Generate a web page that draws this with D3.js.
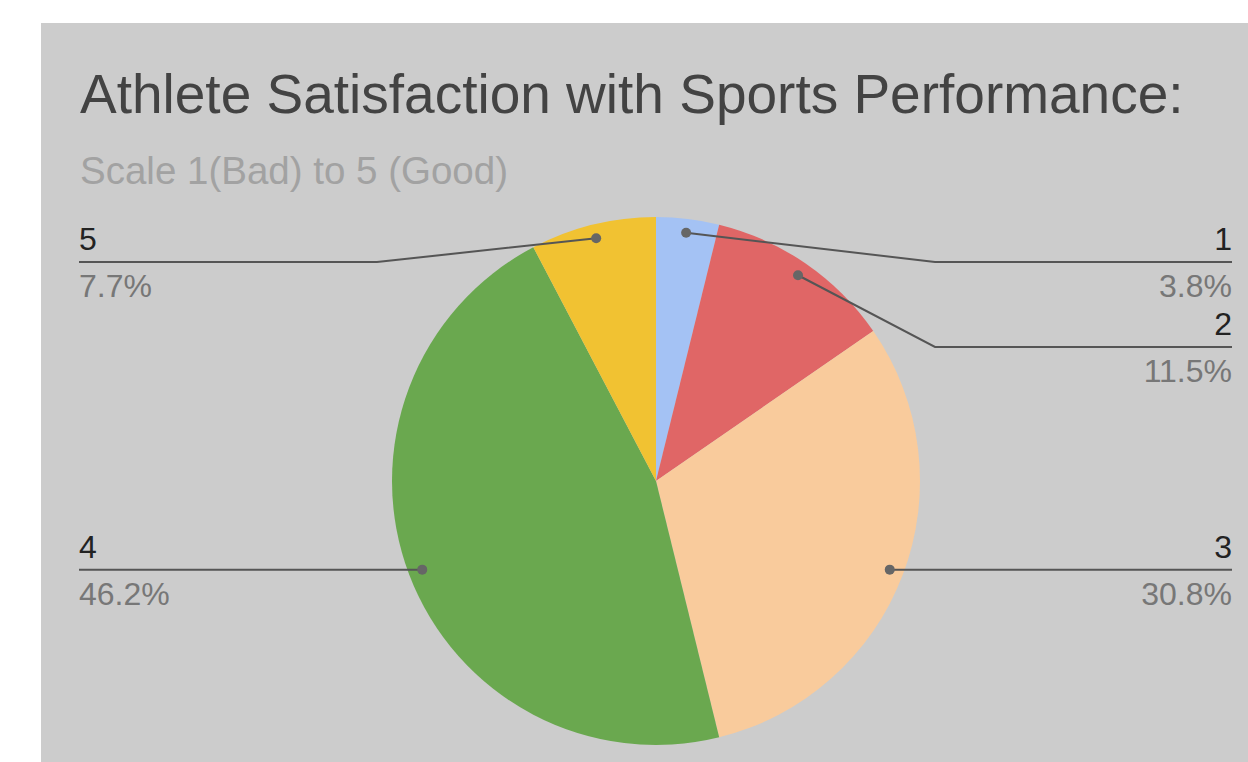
<!DOCTYPE html>
<html>
<head>
  <script src="https://d3js.org/d3.v7.min.js"></script>
  <style>
    body { margin: 0; background: #ffffff; }
    svg { display: block; }
    text { font-family: "Liberation Sans", Arial, sans-serif; }
  </style>
</head>
<body>
  <svg id="chart" width="1248" height="762"></svg>
<script>
  // data (26 responses)
  var categories = ["1", "2", "3", "4", "5"];
  var counts = [1, 3, 8, 12, 2];
  var sliceColors = ["#a4c2f4", "#e06666", "#f9cb9c", "#6aa84f", "#f1c232"];

  var titleText = "Athlete Satisfaction with Sports Performance:";
  var subtitleText = "Scale 1(Bad) to 5 (Good)";

  var svg = d3.select("#chart");

  // grey chart panel
  svg.append("rect").attr("x", 41).attr("y", 23)
    .attr("width", 1207).attr("height", 739).style("fill", "#cccccc");

  svg.append("text").attr("x", 80).attr("y", 113)
    .style("font-size", "55px").style("fill", "#434343").text(titleText);

  svg.append("text").attr("x", 80).attr("y", 184)
    .style("font-size", "38.5px").style("fill", "#a2a2a2").text(subtitleText);

  var cx = 656, cy = 481, radius = 264;
  var total = d3.sum(counts);

  var pie = d3.pie().sort(null).value(function(d) { return d; });
  var arcs = pie(counts);

  var arc = d3.arc().innerRadius(0).outerRadius(radius);
  var dotArc = d3.arc().innerRadius(radius - 14).outerRadius(radius - 14);

  var g = svg.append("g").attr("transform", "translate(" + cx + "," + cy + ")");

  g.selectAll("path.slice")
    .data(arcs)
    .enter().append("path")
    .attr("class", "slice")
    .attr("d", arc)
    .style("fill", function(d, i) { return sliceColors[i]; });

  // label layout: each side stacked downward with a minimum gap
  var items = arcs.map(function(d, i) {
    var c = dotArc.centroid(d);
    var mid = (d.startAngle + d.endAngle) / 2;
    return {
      i: i, x: c[0] + cx, y: c[1] + cy,
      side: mid < Math.PI ? 1 : -1
    };
  });

  var topLimit = 262, gap = 85;
  [1, -1].forEach(function(side) {
    var list = items.filter(function(d) { return d.side === side; })
      .sort(function(a, b) { return a.y - b.y; });
    var prev = topLimit - gap;
    list.forEach(function(d) {
      d.ly = Math.max(d.y, prev + gap);
      prev = d.ly;
    });
  });

  var elbowOff = radius + 15;
  var rightEnd = 1232, leftEnd = 79;

  var labels = svg.append("g");

  items.forEach(function(d) {
    var elbowX = cx + d.side * elbowOff;
    var endX = d.side > 0 ? rightEnd : leftEnd;
    labels.append("polyline")
      .attr("points", [[d.x, d.y], [elbowX, d.ly], [endX, d.ly]].map(function(p) { return p.join(","); }).join(" "))
      .style("fill", "none").style("stroke", "#555555").style("stroke-width", 2);
    labels.append("circle").attr("cx", d.x).attr("cy", d.y).attr("r", 5)
      .style("fill", "#666666");
    var anchor = d.side > 0 ? "end" : "start";
    labels.append("text").attr("x", endX).attr("y", d.ly - 12)
      .attr("text-anchor", anchor)
      .style("font-size", "32px").style("fill", "#222222")
      .text(categories[d.i]);
    labels.append("text").attr("x", endX).attr("y", d.ly + 35)
      .attr("text-anchor", anchor)
      .style("font-size", "32px").style("fill", "#777777")
      .text((counts[d.i] / total * 100).toFixed(1) + "%");
  });
</script>
</body>
</html>
